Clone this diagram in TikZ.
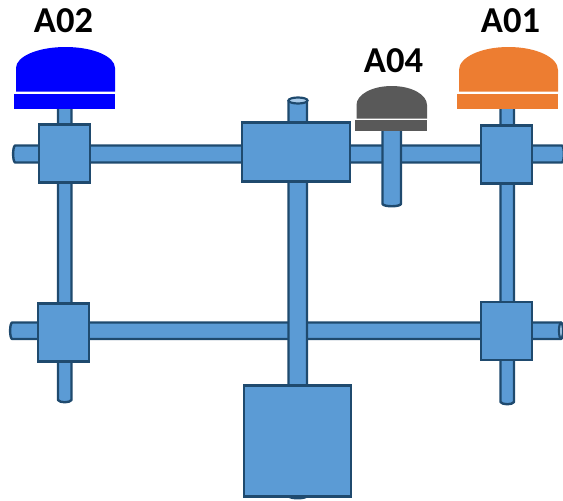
\documentclass[tikz,border=0pt]{standalone}
\usepackage{fontspec}
\setmainfont{Carlito}
\definecolor{pipefill}{HTML}{5B9BD5}
\definecolor{pipeline}{HTML}{1F4A6E}
\definecolor{pipetop}{HTML}{A9CBEA}
\definecolor{capblue}{HTML}{0000FF}
\definecolor{caporange}{HTML}{ED7D31}
\definecolor{capgrey}{HTML}{595959}
\tikzset{
  pipe/.style={fill=pipefill,draw=pipeline,line width=2.4pt,line join=round},
  pipeend/.style={fill=pipetop,draw=pipeline,line width=2.2pt},
  boxnode/.style={fill=pipefill,draw=pipeline,line width=2.6pt,inner sep=0pt,outer sep=0pt,anchor=north west},
  lab/.style={font=\bfseries\fontsize{36.5}{40}\selectfont,text=black,inner sep=0pt}
}
% vertical pipe: x-left, x-right, y-top, y-bottom
\newcommand{\vpipe}[4]{%
  \path[pipe] (#1,#3) -- (#1,#4) .. controls (#1+1.5,#4+3) and (#2-1.5,#4+3) .. (#2,#4) -- (#2,#3) .. controls (#2-1.5,#3-3) and (#1+1.5,#3-3) .. (#1,#3) -- cycle;}
% horizontal pipe: x-left, x-right, y-top, y-bottom
\newcommand{\hpipe}[4]{%
  \path[pipe] (#2,#3) -- (#1,#3) .. controls (#1-2.5,#3+1.5) and (#1-2.5,#4-1.5) .. (#1,#4) -- (#2,#4) .. controls (#2+2.5,#4-1.5) and (#2+2.5,#3+1.5) .. (#2,#3) -- cycle;}
% cap: dome left, right, top, shoulder, bottom; bar left, top, bottom; colour
\newcommand{\capshape}[9]{%
  \fill[#9] (#1,#5) -- (#1,#4) .. controls (#1,{#4-0.55*(#4-#3)}) and ({(#1+#2)/2-0.28*(#2-#1)},#3) .. ({(#1+#2)/2},#3) .. controls ({(#1+#2)/2+0.28*(#2-#1)},#3) and (#2,{#4-0.55*(#4-#3)}) .. (#2,#4) -- (#2,#5) -- cycle;
  \fill[#9] (#6,#7) rectangle (#2,#8);}
\begin{document}
\begin{tikzpicture}[x=1pt,y=-1pt]
\useasboundingbox (0,0) rectangle (563,501);
\clip (0,0) rectangle (563,501);
% horizontal pipes
\hpipe{15}{562}{145.5}{162.5}
\hpipe{12}{561}{322.5}{339}
\draw[pipeend] (561,330.75) ellipse (2 and 8);
% vertical pipes
\vpipe{58}{71.5}{108}{400}
\vpipe{500.5}{514}{107}{402}
\vpipe{288.5}{307}{101}{496}
\draw[pipeend] (298,100.5) ellipse (9.5 and 3);
\vpipe{382.5}{401}{130}{204}
% boxes
\node[boxnode,minimum width=51pt,minimum height=58pt] (tl) at (39,124.5) {};
\node[boxnode,minimum width=108pt,minimum height=59pt] (tc) at (242,122.5) {};
\node[boxnode,minimum width=51pt,minimum height=58pt] (tr) at (481,125.5) {};
\node[boxnode,minimum width=51pt,minimum height=58pt] (bl) at (38,303.5) {};
\node[boxnode,minimum width=51pt,minimum height=58pt] (br) at (481,302) {};
\node[boxnode,minimum width=107pt,minimum height=111pt] (bc) at (244,385.5) {};
% caps
\capshape{16}{115}{47}{68}{91.5}{14}{94}{109}{capblue}
\capshape{459}{558}{47}{70}{91.5}{457}{94}{109}{caporange}
\capshape{356.5}{427}{86}{105}{118.5}{355}{120}{131}{capgrey}
% labels
\node[lab] (a02) at (63.5,21) {A02};
\node[lab] (a04) at (393.5,60.5) {A04};
\node[lab] (a01) at (510.5,20.5) {A01};
\end{tikzpicture}
\end{document}
